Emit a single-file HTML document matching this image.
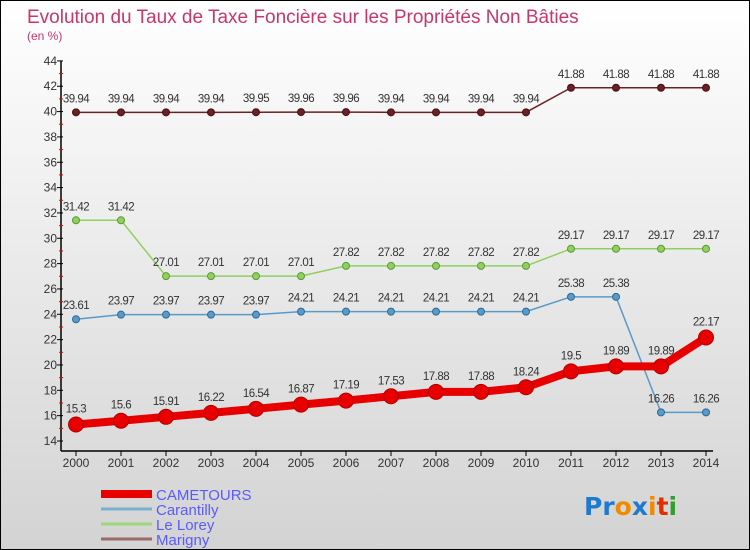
<!DOCTYPE html>
<html><head><meta charset="utf-8"><style>
body{margin:0}
#c{width:748px;height:548px;border:1px solid #000;background:linear-gradient(#fff,#d3d3d3);position:relative;font-family:"Liberation Sans",sans-serif;overflow:hidden}
</style></head><body>
<div id="c">
<svg id="s" width="748" height="548" xmlns="http://www.w3.org/2000/svg" font-family="Liberation Sans, sans-serif"></svg>
</div>
<script>
const years=[2000,2001,2002,2003,2004,2005,2006,2007,2008,2009,2010,2011,2012,2013,2014];
const yTicks=[14,16,18,20,22,24,26,28,30,32,34,36,38,40,42,44];
const cametours=[15.3,15.6,15.91,16.22,16.54,16.87,17.19,17.53,17.88,17.88,18.24,19.5,19.89,19.89,22.17];
const carantilly=[23.61,23.97,23.97,23.97,23.97,24.21,24.21,24.21,24.21,24.21,24.21,25.38,25.38,16.26,16.26];
const lelorey=[31.42,31.42,27.01,27.01,27.01,27.01,27.82,27.82,27.82,27.82,27.82,29.17,29.17,29.17,29.17];
const marigny=[39.94,39.94,39.94,39.94,39.95,39.96,39.96,39.94,39.94,39.94,39.94,41.88,41.88,41.88,41.88];
const names=["CAMETOURS","Carantilly","Le Lorey","Marigny"];
const NS="http://www.w3.org/2000/svg";
const s=document.getElementById('s');
const X=i=>75+45*i, Y=v=>440-(v-14)*12.67;
function el(t,a,p){const e=document.createElementNS(NS,t);for(const k in a)e.setAttribute(k,a[k]);(p||s).appendChild(e);return e;}
function tx(x,y,str,a){const e=el('text',Object.assign({x:x,y:y},a));e.textContent=str;return e;}
let t=tx(26,22,"Evolution du Taux de Taxe Foncière sur les Propriétés Non Bâties",{fill:"#c8366a","font-size":19});

t=tx(26,39,"(en %)",{fill:"#c8366a","font-size":12});

// axes
let a=el('line',{x1:60,y1:60,x2:60,y2:450,stroke:"#000","stroke-width":1.5});

a=el('line',{x1:60,y1:450,x2:712,y2:450,stroke:"#000","stroke-width":1.5});

yTicks.forEach((v,i)=>{
 el('line',{x1:56,x2:62,y1:Y(v),y2:Y(v),stroke:"#000"});
 if(i<yTicks.length-1) el('line',{x1:58,x2:62,y1:Y(v+1),y2:Y(v+1),stroke:"#e00"});
 const l=tx(56,Y(v)+4,String(v),{"text-anchor":"end","font-size":12,fill:"#333"});
 
});
years.forEach((y,i)=>{
 el('line',{x1:X(i),x2:X(i),y1:450,y2:455,stroke:"#000"});
 const l=tx(X(i),466,String(y),{"text-anchor":"middle","font-size":12,fill:"#333"});
 
});
function series(data,col,dark,w,r,name,lblOff){
 const g=el('g',{});
 
 el('polyline',{points:data.map((v,i)=>X(i)+','+Y(v)).join(' '),fill:'none',stroke:col,'stroke-width':w,'stroke-linejoin':'round'},g);
 data.forEach((v,i)=>{
  const c=el('circle',{cx:X(i),cy:Y(v),r:r,fill:col,stroke:dark,'stroke-width':1},g);
  
  const l=tx(X(i),Y(v)-lblOff,String(v),{"text-anchor":"middle","font-size":11.5,fill:"#333","letter-spacing":"-0.5"},g);
  
 });
}
series(marigny,"#6b2025","#4a1015",1.5,3.5,"marigny",10);
series(lelorey,"#8fd060","#5a9a30",1.5,3.5,"le-lorey",10);
series(carantilly,"#5a9ac8","#2d6a98",1.5,3.5,"carantilly",10);
series(cametours,"#e80000","#b00000",8,7.5,"cametours",12);
// legend
const cols=["#e80000","#7ab0d0","#9ad87a","#9a6a6a"],ws=[8,3,3,3];
names.forEach((n,i)=>{
 const y=493+i*15;
 const g=el('g',{});
 el('line',{x1:100,x2:151,y1:y,y2:y,stroke:cols[i],'stroke-width':ws[i]},g);
 tx(155,y+6,n,{"font-size":15,fill:"#5a5aff"},g);
});
// logo
const lg=el('text',{x:583,y:514,"font-size":25,"font-family":"DejaVu Sans, sans-serif","font-weight":"bold"});

[["Pr","#1e7ad0"],["o","#f08a00"],["x","#1e7ad0"],["i","#f08a00"],["t","#e03000"],["i","#30a030"]].forEach(([c,f])=>{const sp=el('tspan',{fill:f},lg);sp.textContent=c;});
</script>
</body></html>
